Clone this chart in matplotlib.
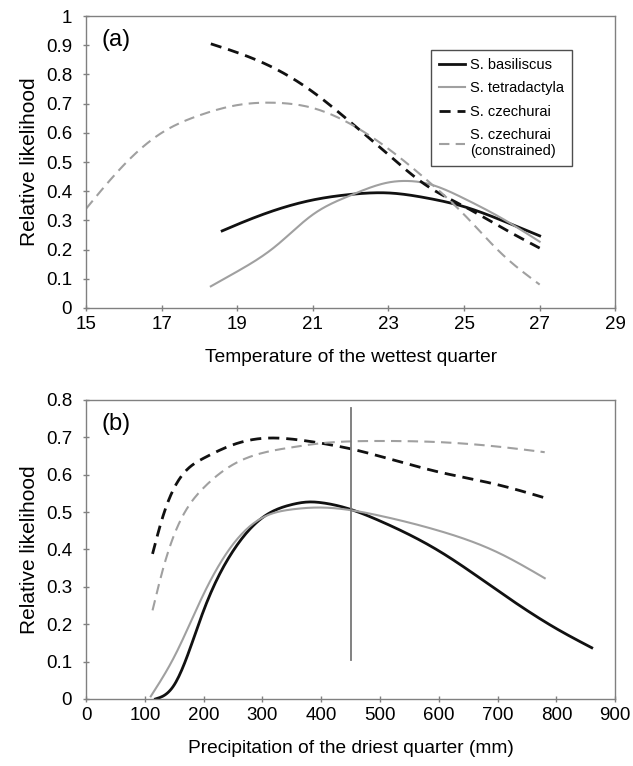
import numpy as np
import matplotlib
matplotlib.use("Agg")
import matplotlib.pyplot as plt
from matplotlib import font_manager

plt.rcParams["font.family"] = ["Liberation Sans", "DejaVu Sans"]
names = {f.name for f in font_manager.fontManager.ttflist}
narrow = "Liberation Sans Narrow" if "Liberation Sans Narrow" in names else "Liberation Sans"

# panel (a): temperature of the wettest quarter
a_bas_x = [18.6, 19, 20, 21, 22, 23, 24, 25, 26, 27]
a_bas_y = [0.264, 0.286, 0.335, 0.370, 0.389, 0.394, 0.377, 0.347, 0.300, 0.247]
a_tet_x = [18.3, 19, 20, 21, 22, 23, 23.5, 24, 25, 26, 27]
a_tet_y = [0.074, 0.125, 0.210, 0.320, 0.386, 0.430, 0.435, 0.427, 0.375, 0.307, 0.227]
a_cze_x = [18.3, 19, 20, 21, 22, 23, 24, 25, 26, 27]
a_cze_y = [0.905, 0.875, 0.820, 0.740, 0.636, 0.525, 0.420, 0.348, 0.275, 0.205]
a_con_x = [15, 16, 17, 18, 19, 20, 21, 22, 23, 24, 25, 26, 27]
a_con_y = [0.340, 0.490, 0.600, 0.660, 0.695, 0.703, 0.685, 0.630, 0.545, 0.440, 0.320, 0.185, 0.080]

# panel (b): precipitation of the driest quarter
b_bas_x = [118, 130, 150, 200, 250, 300, 350, 380, 400, 450, 500, 600, 700, 800, 860]
b_bas_y = [0.0, 0.007, 0.038, 0.237, 0.396, 0.485, 0.520, 0.527, 0.525, 0.507, 0.476, 0.396, 0.290, 0.188, 0.137]
b_tet_x = [110, 150, 200, 250, 300, 350, 400, 450, 500, 600, 700, 780]
b_tet_y = [0.007, 0.113, 0.281, 0.414, 0.485, 0.507, 0.512, 0.505, 0.490, 0.450, 0.392, 0.323]
b_cze_x = [113, 130, 150, 200, 250, 300, 350, 400, 450, 500, 600, 700, 780]
b_cze_y = [0.388, 0.485, 0.565, 0.644, 0.680, 0.697, 0.695, 0.684, 0.669, 0.649, 0.607, 0.573, 0.538]
b_con_x = [113, 130, 150, 200, 250, 300, 350, 400, 450, 500, 600, 700, 780]
b_con_y = [0.237, 0.343, 0.440, 0.565, 0.627, 0.658, 0.673, 0.684, 0.689, 0.690, 0.687, 0.675, 0.660]
b_vline_x = 450
b_vline_y = [0.105, 0.777]

black = "#111111"
gray = "#a0a0a0"
spine = "#808080"


def smooth(x, y, n=300):
    # natural cubic spline through the read points
    x = np.asarray(x, float)
    y = np.asarray(y, float)
    m = len(x)
    h = np.diff(x)
    A = np.zeros((m, m))
    r = np.zeros(m)
    A[0, 0] = A[-1, -1] = 1
    for i in range(1, m - 1):
        A[i, i - 1] = h[i - 1]
        A[i, i] = 2 * (h[i - 1] + h[i])
        A[i, i + 1] = h[i]
        r[i] = 6 * ((y[i + 1] - y[i]) / h[i] - (y[i] - y[i - 1]) / h[i - 1])
    M = np.linalg.solve(A, r)
    xs = np.linspace(x[0], x[-1], n)
    idx = np.clip(np.searchsorted(x, xs) - 1, 0, m - 2)
    x0, x1 = x[idx], x[idx + 1]
    hh = x1 - x0
    t0 = x1 - xs
    t1 = xs - x0
    ys = (M[idx] * t0**3 + M[idx + 1] * t1**3) / (6 * hh) \
        + (y[idx] / hh - M[idx] * hh / 6) * t0 + (y[idx + 1] / hh - M[idx + 1] * hh / 6) * t1
    return xs, ys


def style_axes(ax):
    for s in ax.spines.values():
        s.set_color(spine)
        s.set_linewidth(1.0)
    ax.tick_params(direction="inout", length=4, width=1, color=spine, labelsize=13.5)
    ax.tick_params(axis="y", pad=8)
    ax.tick_params(axis="x", pad=4)


fig = plt.figure(figsize=(6.33, 7.66), dpi=100)
fig.patch.set_facecolor("white")

axA = fig.add_axes([0.136, 0.598, 0.836, 0.381])
axB = fig.add_axes([0.136, 0.0875, 0.836, 0.3905])

# panel (a)
axA.plot(*smooth(a_bas_x, a_bas_y), color=black, lw=2.0, label="S. basiliscus")
axA.plot(*smooth(a_tet_x, a_tet_y), color=gray, lw=1.5, label="S. tetradactyla")
axA.plot(*smooth(a_cze_x, a_cze_y), color=black, lw=2.0, ls=(0, (4, 2.5)), label="S. czechurai")
axA.plot(*smooth(a_con_x, a_con_y), color=gray, lw=1.5, ls=(0, (5, 3)), label="S. czechurai\n(constrained)")
axA.set_xlim(15, 29)
axA.set_ylim(0, 1)
axA.set_xticks(np.arange(15, 30, 2))
axA.set_yticks(np.arange(0, 1.01, 0.1))
axA.set_yticklabels(["0", "0.1", "0.2", "0.3", "0.4", "0.5", "0.6", "0.7", "0.8", "0.9", "1"])
axA.set_xlabel("Temperature of the wettest quarter", fontsize=13.8, labelpad=11)
axA.set_ylabel("Relative likelihood", fontsize=15, labelpad=5)
axA.text(0.03, 0.955, "(a)", transform=axA.transAxes, fontsize=17, va="top")
style_axes(axA)
leg = axA.legend(loc="upper left", bbox_to_anchor=(0.652, 0.885),
                 prop={"family": narrow, "size": 10.5},
                 frameon=True, fancybox=False, handlelength=1.8, labelspacing=0.65,
                 borderpad=0.55, handletextpad=0.3, borderaxespad=0)
leg.get_frame().set_edgecolor("#222222")
leg.get_frame().set_linewidth(1.0)
for t in leg.get_texts():
    t.set_multialignment("left")

# panel (b)
axB.plot(*smooth(b_bas_x, b_bas_y), color=black, lw=2.0)
axB.plot(*smooth(b_tet_x, b_tet_y), color=gray, lw=1.5)
axB.plot(*smooth(b_cze_x, b_cze_y), color=black, lw=2.0, ls=(0, (4, 2.5)))
axB.plot(*smooth(b_con_x, b_con_y), color=gray, lw=1.5, ls=(0, (5, 3)))
axB.plot([b_vline_x, b_vline_x], b_vline_y, color="#777777", lw=1.3)
axB.set_xlim(0, 900)
axB.set_ylim(0, 0.8)
axB.set_xticks(np.arange(0, 901, 100))
axB.set_yticks(np.arange(0, 0.81, 0.1))
axB.set_yticklabels(["0", "0.1", "0.2", "0.3", "0.4", "0.5", "0.6", "0.7", "0.8"])
axB.set_xlabel("Precipitation of the driest quarter (mm)", fontsize=13.8, labelpad=11)
axB.set_ylabel("Relative likelihood", fontsize=15, labelpad=5)
axB.text(0.03, 0.955, "(b)", transform=axB.transAxes, fontsize=17, va="top")
style_axes(axB)

fig.savefig("out.png", dpi=100)
